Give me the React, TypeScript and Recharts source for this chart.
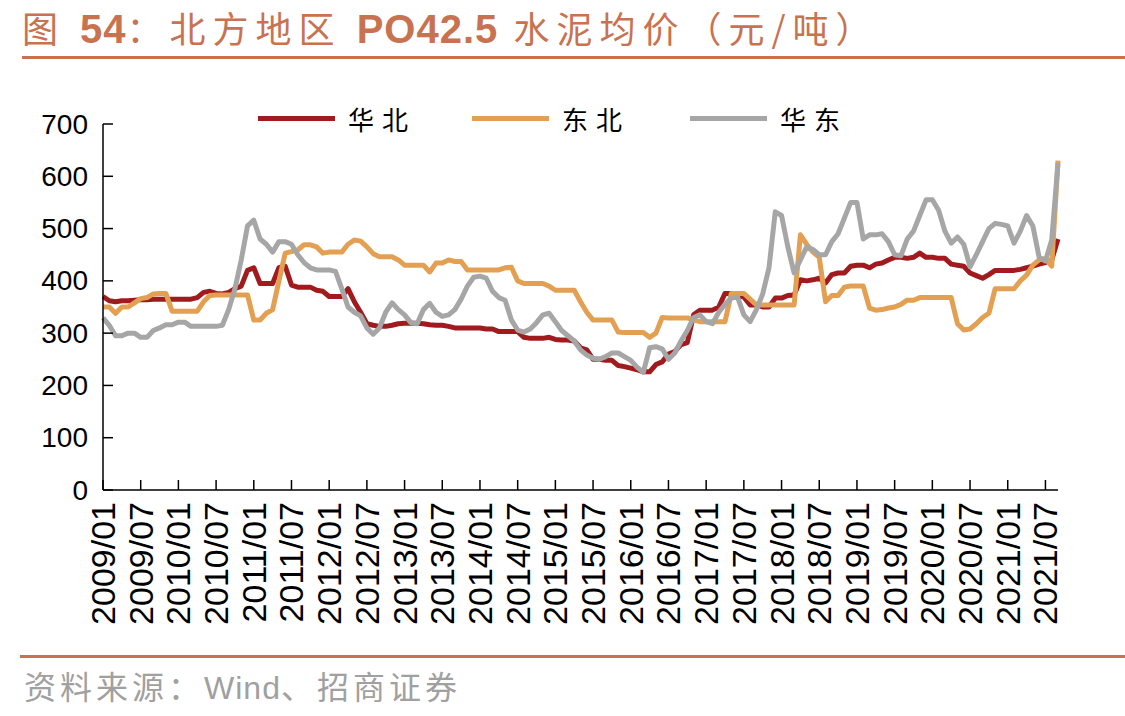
import React from 'react';
import { LineChart, Line, XAxis, YAxis } from 'recharts';

// monthly average prices, 2009/01 – 2021/09 (元/吨)
const huabei = [
  370, 362, 360, 362, 362, 363, 364, 364, 365, 365, 365, 365,
  365, 365, 365, 368, 378, 380, 376, 375, 378, 385, 390, 420,
  425, 395, 395, 395, 425, 428, 392, 388, 388, 388, 382, 380,
  370, 370, 370, 385, 360, 340, 318, 315, 313, 313, 315, 318,
  319, 319, 319, 318, 316, 315, 315, 313, 310, 310, 310, 310,
  310, 308, 308, 303, 303, 303, 303, 292, 290, 290, 290, 292,
  288, 287, 287, 285, 272, 268, 250, 250, 248, 248, 238, 236,
  233, 230, 226, 226, 240, 245, 260, 265, 278, 282, 335, 344,
  344, 344, 350, 376, 376, 372, 369, 354, 354, 350, 350, 367,
  367, 372, 373, 402, 400, 402, 405, 396, 412, 415, 415, 428,
  430, 430, 425, 432, 434, 440, 445, 445, 443, 445, 453, 445,
  445, 443, 443, 432, 430, 428, 415, 410, 405, 412, 420, 420,
  420, 420, 422, 425, 428, 432, 435, 440, 480,
];

const dongbei = [
  350, 350, 338, 350, 350, 358, 366, 368, 375, 376, 376, 342,
  342, 342, 342, 342, 360, 372, 373, 373, 373, 373, 373, 373,
  325, 325, 338, 345, 400, 453, 456, 459, 469, 469, 465, 453,
  455, 455, 455, 470, 478, 476, 465, 452, 446, 446, 446, 440,
  430, 430, 430, 430, 417, 434, 434, 440, 437, 437, 421, 421,
  421, 421, 421, 421, 425, 426, 400, 395, 395, 395, 395, 390,
  382, 382, 382, 382, 360, 340, 325, 325, 325, 325, 302, 301,
  301, 301, 301, 292, 300, 330, 329, 329, 329, 329, 325, 322,
  322, 322, 322, 322, 376, 376, 376, 365, 354, 354, 354, 354,
  354, 354, 354, 488, 470, 455, 445, 360, 372, 372, 388, 390,
  390, 390, 348, 344, 345, 348, 350, 355, 363, 363, 368, 368,
  368, 368, 368, 368, 318, 306, 308, 318, 330, 338, 385, 385,
  385, 385, 400, 411, 430, 440, 443, 428, 630,
];

const huadong = [
  329, 315, 295, 295, 300, 300, 292, 292, 305, 310, 316, 316,
  321, 321, 313, 313, 313, 313, 313, 315, 345, 385, 440, 505,
  516, 480, 470, 455, 475, 475, 470, 450, 435, 425, 421, 421,
  421, 418, 385, 350, 340, 333, 310, 298, 310, 340, 358, 345,
  335, 320, 318, 345, 357, 340, 332, 335, 345, 365, 390, 407,
  409, 405, 380, 368, 363, 325, 306, 302, 308, 320, 335, 338,
  322, 305, 295, 285, 268, 258, 252, 250, 255, 262, 262, 255,
  248, 235, 225, 272, 274, 270, 250, 262, 285, 305, 330, 335,
  322, 318, 340, 355, 367, 369, 335, 322, 345, 375, 425, 532,
  525, 465, 415, 440, 465, 460, 450, 450, 475, 490, 520, 550,
  550, 480, 488, 488, 490, 475, 450, 448, 480, 495, 525, 555,
  555, 535, 495, 472, 484, 470, 427, 450, 475, 500, 510, 508,
  505, 472, 495, 525, 505, 445, 438, 478, 625,
];

const months: string[] = [];
for (let i = 0; i < huabei.length; i++) {
  const yr = 2009 + Math.floor(i / 12);
  const mo = (i % 12) + 1;
  months.push(`${yr}/${mo < 10 ? '0' + mo : mo}`);
}

const xTicks = [
  '2009/01', '2009/07', '2010/01', '2010/07', '2011/01', '2011/07', '2012/01',
  '2012/07', '2013/01', '2013/07', '2014/01', '2014/07', '2015/01', '2015/07',
  '2016/01', '2016/07', '2017/01', '2017/07', '2018/01', '2018/07', '2019/01',
  '2019/07', '2020/01', '2020/07', '2021/01', '2021/07',
];
const yTicks = [0, 100, 200, 300, 400, 500, 600, 700];

const series = [
  { key: 'huabei', name: '华北', color: '#A11A1D' },
  { key: 'dongbei', name: '东北', color: '#E3A052' },
  { key: 'huadong', name: '华东', color: '#A6A6A6' },
];

const data = months.map((m, i) => ({
  month: m,
  huabei: huabei[i],
  dongbei: dongbei[i],
  huadong: huadong[i],
}));

const ACCENT = '#C8724F';
const NUM_FONT = '"Liberation Sans", Arial, sans-serif';
const CJK_FONT = '"Noto Sans CJK SC", sans-serif';

// ticks point into the plot, so draw them with the labels
const YTick = ({ x, y, payload }: any) => (
  <g>
    <line x1={x} y1={y} x2={x + 10} y2={y} stroke="#000" strokeWidth={1.5} />
    <text x={x - 15} y={y} textAnchor="end" dominantBaseline="central"
      fontSize={28} fontFamily={NUM_FONT} fill="#000">
      {payload.value}
    </text>
  </g>
);

const XTick = ({ x, y, payload }: any) => (
  <g>
    <line x1={x} y1={y} x2={x} y2={y - 10} stroke="#000" strokeWidth={1.5} />
    <text x={x} y={y + 12} transform={`rotate(-90 ${x} ${y + 12})`}
      textAnchor="end" dominantBaseline="central"
      fontSize={34} fontFamily={NUM_FONT} fill="#000">
      {payload.value}
    </text>
  </g>
);

const legendPos = [258, 472, 690];

const numStyle = { fontFamily: NUM_FONT, fontWeight: 700, fontSize: 40, letterSpacing: 1 };

export default function App() {
  return (
    <div style={{ position: 'absolute', left: 0, top: 0, width: 1125, height: 716, background: '#fff', overflow: 'hidden' }}>
      <div style={{ position: 'absolute', left: 22, top: 4, fontFamily: CJK_FONT, fontSize: 36, lineHeight: '46px', color: ACCENT, letterSpacing: 7, whiteSpace: 'nowrap' }}>
        图 <span style={numStyle}>54</span>：北方地区 <span style={numStyle}>PO42.5</span> 水泥均价（元/吨）
      </div>
      <div style={{ position: 'absolute', left: 22, top: 56, width: 1103, height: 3, background: ACCENT }} />

      <LineChart width={1125} height={716} data={data}
        margin={{ top: 124, right: 67, bottom: 0, left: 0 }}>
        <XAxis dataKey="month" ticks={xTicks} interval={0} height={226}
          tickSize={0} tickMargin={0} tick={<XTick />}
          axisLine={{ stroke: '#000', strokeWidth: 1.5 }} />
        <YAxis domain={[0, 700]} ticks={yTicks} width={103}
          tickSize={0} tickMargin={0} tick={<YTick />}
          axisLine={{ stroke: '#000', strokeWidth: 1.5 }} />
        {series.map((s) => (
          <Line key={s.key} type="linear" dataKey={s.key} name={s.name}
            stroke={s.color} strokeWidth={5} dot={false}
            strokeLinejoin="round" isAnimationActive={false} />
        ))}
      </LineChart>

      {series.map((s, i) => (
        <div key={s.key} style={{ position: 'absolute', left: legendPos[i], top: 101, height: 34, display: 'flex', alignItems: 'center' }}>
          <div style={{ width: 77, height: 5, background: s.color }} />
          <span style={{ marginLeft: 13, fontFamily: CJK_FONT, fontSize: 26, letterSpacing: 8, color: '#000' }}>{s.name}</span>
        </div>
      ))}

      <div style={{ position: 'absolute', left: 20, top: 655, width: 1105, height: 3, background: ACCENT }} />
      <div style={{ position: 'absolute', left: 24, top: 664, fontFamily: CJK_FONT, fontSize: 32, lineHeight: '42px', color: '#A0A0A0', letterSpacing: 4, whiteSpace: 'nowrap' }}>
        资料来源：<span style={{ fontFamily: NUM_FONT, letterSpacing: 1 }}>Wind</span>、招商证券
      </div>
    </div>
  );
}
